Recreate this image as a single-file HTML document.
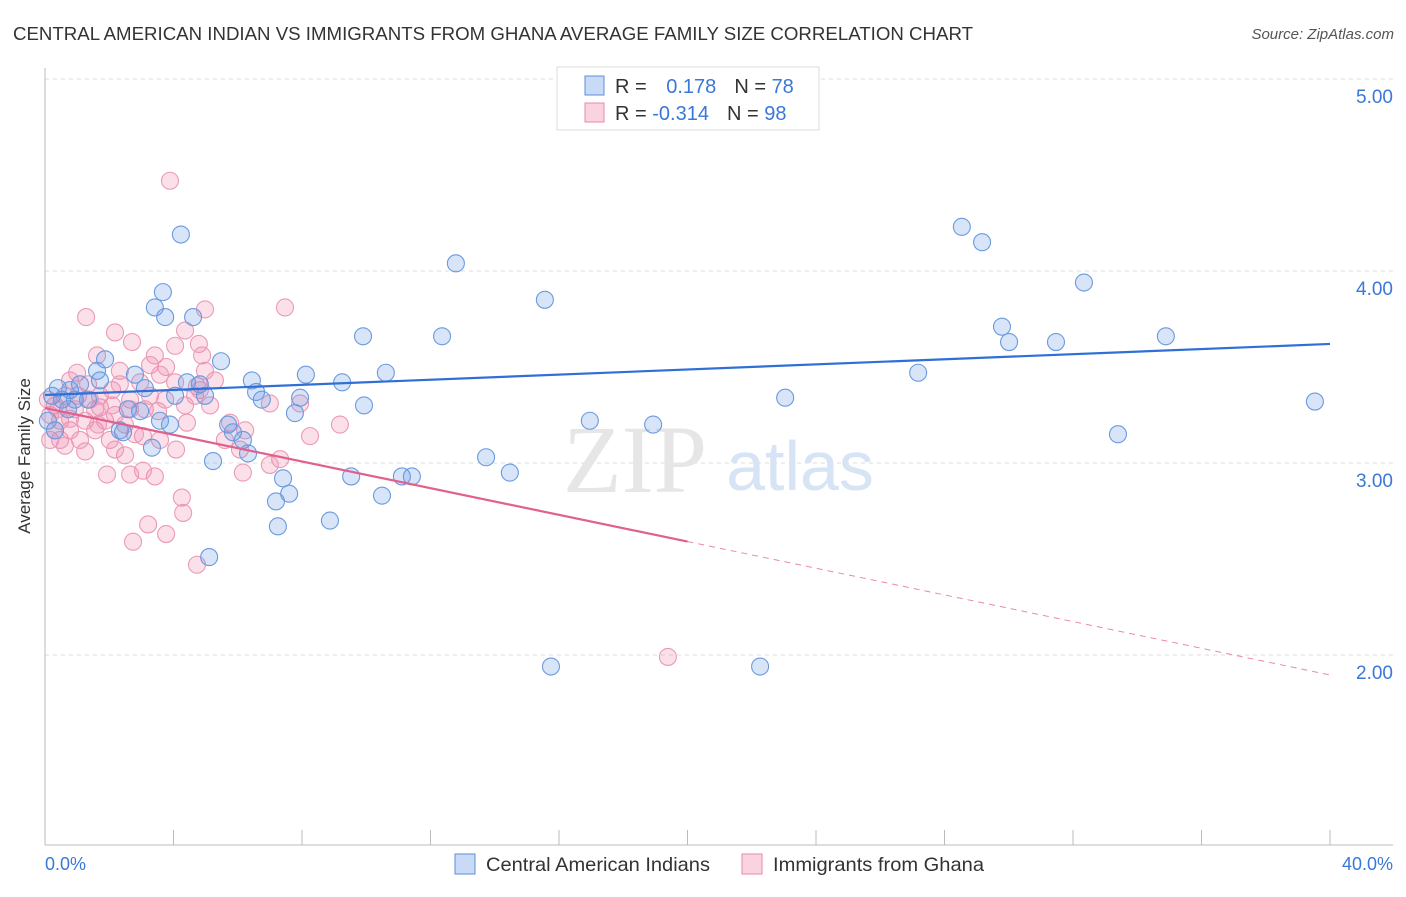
<!DOCTYPE html>
<html><head><meta charset="utf-8"><style>
body{margin:0;background:#fff;font-family:"Liberation Sans",sans-serif}
</style></head><body>
<svg width="1406" height="892" xmlns="http://www.w3.org/2000/svg" font-family="Liberation Sans, sans-serif">
<text x="13" y="40" font-size="18.5" fill="#333" textLength="960" lengthAdjust="spacingAndGlyphs">CENTRAL AMERICAN INDIAN VS IMMIGRANTS FROM GHANA AVERAGE FAMILY SIZE CORRELATION CHART</text>
<text x="1394" y="39" font-size="15" fill="#555" text-anchor="end" font-style="italic">Source: ZipAtlas.com</text>
<g id="grid"></g>
<text x="635" y="492" font-size="96" fill="#e6e6e6" font-family="Liberation Serif, serif" text-anchor="middle">ZIP</text>
<text x="800" y="490" font-size="70" fill="#d6e4f5" text-anchor="middle">atlas</text>
<line x1="45" y1="68" x2="45" y2="845" stroke="#bbb"/>
<line x1="45" y1="845" x2="1393" y2="845" stroke="#bbb"/>
<g id="ticks"></g>
<g id="ylabels"></g>
<text x="30" y="456" font-size="17" fill="#333" text-anchor="middle" transform="rotate(-90 30 456)">Average Family Size</text>
<text x="45" y="870" font-size="18" fill="#3a78d8">0.0%</text>
<text x="1393" y="870" font-size="18" fill="#3a78d8" text-anchor="end">40.0%</text>
<g id="pts"></g>
<g id="trend"></g>
<g>
<rect x="557" y="67" width="262" height="63" fill="#fff" stroke="#ddd"/>
<rect x="585" y="76" width="19" height="19" fill="rgba(100,150,230,0.35)" stroke="#5b8fd8"/>
<rect x="585" y="103" width="19" height="19" fill="rgba(240,130,170,0.35)" stroke="#e88aaa"/>
<text x="615" y="93" font-size="20" fill="#333">R = <tspan fill="#3a78d8" dx="14">0.178</tspan><tspan dx="18">N = </tspan><tspan fill="#3a78d8">78</tspan></text>
<text x="615" y="120" font-size="20" fill="#333">R = <tspan fill="#3a78d8">-0.314</tspan><tspan dx="18">N = </tspan><tspan fill="#3a78d8">98</tspan></text>
</g>
<g>
<rect x="455" y="854" width="20" height="20" fill="rgba(100,150,230,0.35)" stroke="#5b8fd8"/>
<text x="486" y="871" font-size="19.5" fill="#333" textLength="224" lengthAdjust="spacingAndGlyphs">Central American Indians</text>
<rect x="742" y="854" width="20" height="20" fill="rgba(240,130,170,0.35)" stroke="#e88aaa"/>
<text x="773" y="871" font-size="19.5" fill="#333" textLength="211" lengthAdjust="spacingAndGlyphs">Immigrants from Ghana</text>
</g>
</svg>
<script>
const yTicks=[2,3,4,5];
const yTickLabels=["2.00","3.00","4.00","5.00"];
const xTicks=[0,4,8,12,16,20,24,28,32,36,40];
const blueX=[17.37,4.23,12.79,28.54,29.17,32.34,15.56,3.67,3.42,3.74,4.61,9.90,12.36,29.79,30.01,31.47,34.89,5.48,1.87,2.80,1.62,4.42,4.82,6.44,8.12,9.25,10.61,27.18,23.04,39.53,0.40,0.78,1.09,1.34,3.11,4.05,4.98,6.57,6.75,7.94,7.78,9.93,2.58,2.96,2.33,2.43,3.33,3.89,5.70,5.85,6.16,6.32,16.96,18.93,33.40,13.73,14.47,5.23,7.41,7.60,7.19,7.25,9.53,10.49,11.11,11.42,8.87,5.11,15.75,22.26,0.22,0.31,0.72,0.53,1.71,3.58,0.09,0.93];
const blueY=[4.91,4.19,4.04,4.23,4.15,3.94,3.85,3.89,3.81,3.76,3.76,3.66,3.66,3.71,3.63,3.63,3.66,3.53,3.54,3.46,3.48,3.42,3.41,3.43,3.46,3.42,3.47,3.47,3.34,3.32,3.39,3.38,3.41,3.33,3.39,3.35,3.35,3.37,3.33,3.34,3.26,3.30,3.28,3.27,3.17,3.16,3.08,3.20,3.20,3.16,3.12,3.05,3.22,3.20,3.15,3.03,2.95,3.01,2.92,2.84,2.80,2.67,2.93,2.83,2.93,2.93,2.70,2.51,1.94,1.94,3.35,3.17,3.28,3.33,3.43,3.22,3.22,3.33];
const pinkX=[3.89,1.28,7.47,4.98,2.18,4.36,2.71,4.79,1.62,3.42,4.89,1.00,2.33,3.77,4.98,2.96,4.05,2.09,4.73,1.71,2.65,3.52,7.00,9.18,5.76,8.25,4.42,3.05,2.02,1.25,4.08,7.32,7.00,6.16,1.93,2.65,3.42,3.05,4.26,4.30,3.21,2.74,3.77,4.73,19.39,0.47,0.78,0.16,0.31,0.62,0.93,1.25,1.56,1.40,0.47,1.09,1.87,2.18,2.49,2.80,3.11,3.58,0.31,0.78,1.71,2.33,3.27,3.74,4.36,4.67,5.14,5.60,6.07,2.49,2.18,1.65,0.09,0.16,0.62,1.03,1.34,3.27,4.05,3.58,2.65,2.09,1.56,4.82,5.29,7.94,6.23,0.78,0.40];
const pinkY=[4.47,3.76,3.81,3.80,3.68,3.69,3.63,3.62,3.56,3.56,3.56,3.47,3.48,3.50,3.48,3.42,3.42,3.38,3.40,3.29,3.33,3.27,3.31,3.20,3.21,3.14,3.21,3.14,3.12,3.06,3.07,3.02,2.99,2.95,2.94,2.94,2.93,2.96,2.82,2.74,2.68,2.59,2.63,2.47,1.99,3.22,3.17,3.25,3.30,3.35,3.28,3.22,3.17,3.33,3.12,3.12,3.22,3.25,3.20,3.15,3.28,3.12,3.17,3.43,3.35,3.41,3.35,3.33,3.30,3.35,3.30,3.12,3.07,3.04,3.07,3.20,3.33,3.12,3.09,3.35,3.41,3.51,3.61,3.46,3.28,3.30,3.28,3.38,3.43,3.31,3.17,3.23,3.28];
const blueTrend=[3.354,3.620];
const pinkTrend=[3.286,1.896];
const pinkSolidEnd=20;
const NS="http://www.w3.org/2000/svg";
const sx=v=>45+v/40*1285, sy=v=>79+(5-v)*192;
function mk(t,a,p){const e=document.createElementNS(NS,t);for(const k in a)e.setAttribute(k,a[k]);p.appendChild(e);return e;}
const grid=document.getElementById('grid'),yl=document.getElementById('ylabels'),tk=document.getElementById('ticks');
yTicks.forEach((v,i)=>{
 const l=mk('line',{x1:45,x2:1393,y1:sy(v),y2:sy(v),stroke:'#ddd','stroke-dasharray':'4,4'},grid);
 
 
 const t=mk('text',{x:1393,y:sy(v)+24,'font-size':19,fill:'#3a78d8','text-anchor':'end'},yl);
 t.textContent=yTickLabels[i];
 
 
});
xTicks.forEach(v=>{
 const l=mk('line',{x1:sx(v),x2:sx(v),y1:830,y2:845,stroke:'#bbb'},tk);
 
 
});
const pts=document.getElementById('pts');
pinkX.forEach((x,i)=>{
 const c=mk('circle',{cx:sx(x),cy:sy(pinkY[i]),r:8.5,fill:'rgba(240,130,170,0.25)',stroke:'#eb9ab6','stroke-width':1.1},pts);
 
 
});
blueX.forEach((x,i)=>{
 const c=mk('circle',{cx:sx(x),cy:sy(blueY[i]),r:8.5,fill:'rgba(100,150,230,0.25)',stroke:'#6a9ade','stroke-width':1.1},pts);
 
 
});
const tr=document.getElementById('trend');
const pAt=x=>pinkTrend[0]+(pinkTrend[1]-pinkTrend[0])*x/40;
let a=mk('line',{x1:sx(0),y1:sy(blueTrend[0]),x2:sx(40),y2:sy(blueTrend[1]),stroke:'#2f6fd6','stroke-width':2.2},tr);


a=mk('line',{x1:sx(0),y1:sy(pinkTrend[0]),x2:sx(pinkSolidEnd),y2:sy(pAt(pinkSolidEnd)),stroke:'#e0608e','stroke-width':2.2},tr);


a=mk('line',{x1:sx(pinkSolidEnd),y1:sy(pAt(pinkSolidEnd)),x2:sx(40),y2:sy(pinkTrend[1]),stroke:'#e88aaa','stroke-width':1,'stroke-dasharray':'6,5'},tr);


</script>
</body></html>
